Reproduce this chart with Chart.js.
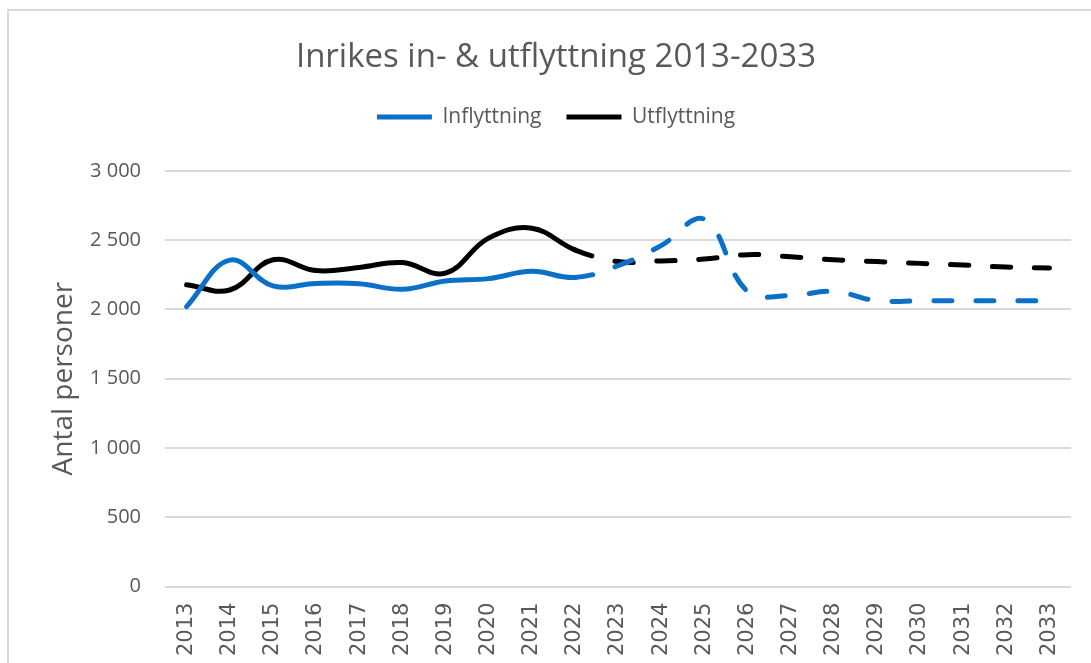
<!DOCTYPE html>
<html>
<head>
<meta charset="utf-8">
<script src="https://cdn.jsdelivr.net/npm/chart.js@4.4.1/dist/chart.umd.min.js"></script>
<style>
  html, body { margin: 0; padding: 0; background: #fff; }
  #wrap { position: relative; width: 1091px; height: 663px; }
</style>
</head>
<body>
<div id="wrap"><canvas id="chart" width="1091" height="663"></canvas></div>
<script>
// ---------- DATA ----------
const years = ["2013", "2014", "2015", "2016", "2017", "2018", "2019", "2020", "2021", "2022",
  "2023", "2024", "2025", "2026", "2027", "2028", "2029", "2030", "2031", "2032", "2033"];

const inflyttning = [2020, 2355, 2170, 2187, 2185, 2145, 2205, 2222, 2275, 2230,
  2315, 2460, 2650, 2130, 2100, 2130, 2062, 2062, 2062, 2062, 2062];

const utflyttning = [2178, 2140, 2358, 2280, 2303, 2338, 2262, 2514, 2586, 2430,
  2345, 2350, 2363, 2395, 2380, 2358, 2345, 2332, 2320, 2305, 2298];

const yTicks = [0, 500, 1000, 1500, 2000, 2500, 3000];

// prognosis starts after 2022 (index 9)
const lastActual = 9;

const GREY = "#595959";
const BLUE = "#0A70C8";
const BLACK = "#000000";

// ---------- HELPERS ----------
const fmt = v => String(v).replace(/\B(?=(\d{3})+(?!\d))/g, " ");

const dashed = ctx => ctx.p0DataIndex >= lastActual ? [18, 24] : undefined;

const frame = {
  id: "frame",
  beforeDraw(chart) {
    const c = chart.ctx;
    c.save();
    c.fillStyle = "#fff";
    c.fillRect(0, 0, chart.width, chart.height);
    c.strokeStyle = "#d9d9d9";
    c.lineWidth = 2;
    c.strokeRect(8, 10, chart.width + 20, chart.height + 20);
    c.restore();
  }
};

function series(label, data, color) {
  return {
    label,
    data,
    borderColor: color,
    backgroundColor: color,
    borderWidth: 5,
    borderCapStyle: "round",
    tension: 0.4,
    pointRadius: 0,
    pointHoverRadius: 0,
    fill: false,
    segment: { borderDash: dashed }
  };
}

// ---------- CHART ----------
new Chart(document.getElementById("chart"), {
  type: "line",
  data: {
    labels: years,
    datasets: [
      series("Inflyttning", inflyttning, BLUE),
      series("Utflyttning", utflyttning, BLACK)
    ]
  },
  options: {
    responsive: false,
    animation: false,
    layout: { padding: { left: 37, right: 16, top: 0, bottom: -9 } },
    plugins: {
      title: {
        display: true,
        text: "Inrikes in- & utflyttning 2013-2033",
        color: GREY,
        font: { family: "'Open Sans'", size: 33, weight: "normal" },
        padding: { top: 38, bottom: 4 }
      },
      // empty spacer between legend and plot
      subtitle: {
        display: true,
        text: " ",
        weight: 500,
        font: { size: 1 },
        padding: { top: 0, bottom: 32 }
      },
      legend: {
        position: "top",
        labels: {
          color: GREY,
          font: { family: "'Open Sans'", size: 21 },
          usePointStyle: true,
          pointStyle: "line",
          pointStyleWidth: 55,
          boxHeight: 20,
          padding: 25
        }
      },
      tooltip: { enabled: false }
    },
    scales: {
      x: {
        offset: true,
        grid: { display: false, drawTicks: false },
        border: { display: false },
        ticks: {
          color: GREY,
          font: { family: "'DejaVu Sans'", size: 21 },
          minRotation: 90,
          maxRotation: 90,
          autoSkip: false,
          padding: 16
        }
      },
      y: {
        min: 0,
        max: 3000,
        afterBuildTicks: s => { s.ticks = yTicks.map(v => ({ value: v })); },
        afterFit: s => { s.width = 128; },
        grid: { color: "#d9d9d9", lineWidth: 2, drawTicks: false },
        border: { display: false },
        ticks: {
          color: GREY,
          font: { family: "'Open Sans'", size: 20 },
          padding: 24,
          callback: v => fmt(v)
        },
        title: {
          display: true,
          text: "Antal personer",
          color: GREY,
          font: { family: "'Open Sans'", size: 28 },
          padding: { top: 10 }
        }
      }
    }
  },
  plugins: [frame]
});
</script>
</body>
</html>
